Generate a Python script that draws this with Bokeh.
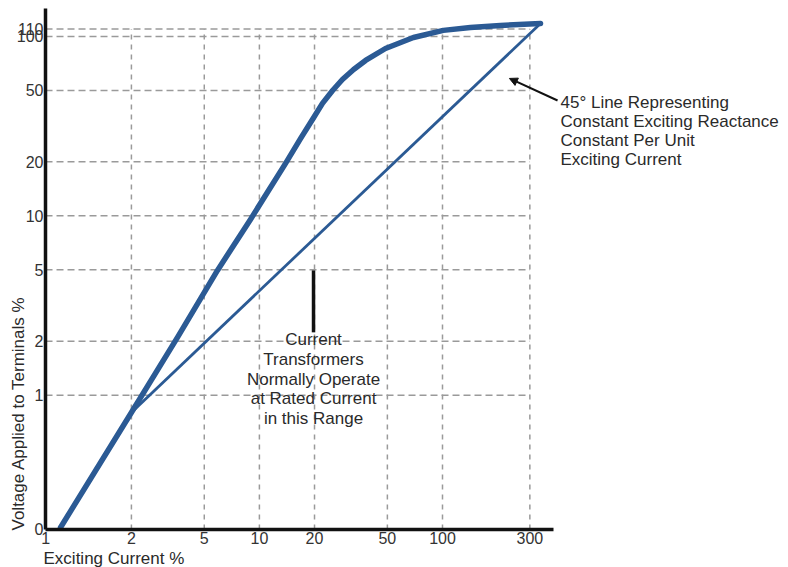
import math
from bokeh.plotting import figure
from bokeh.models import Range1d, FixedTicker, Label, Arrow, NormalHead
from bokeh.embed import file_html
from bokeh.resources import INLINE

# ---------------- data ----------------
x_tick_values = [0.68, 2, 5, 10, 20, 50, 100, 300]
x_tick_labels = ["1", "2", "5", "10", "20", "50", "100", "300"]
y_tick_values = [0.18, 1, 2, 5, 10, 20, 50, 100, 110]
y_tick_labels = ["0", "1", "2", "5", "10", "20", "50", "100", "110"]

# excitation (magnetizing) curve: exciting current % vs applied voltage %
curve_current = [0.82, 2.00, 3.57, 5.90, 8.94, 11.2, 13.9, 16.8, 19.8, 22.1,
                 25.1, 28.4, 32.7, 38.0, 48.8, 69.4, 101, 142, 207, 343]
curve_voltage = [0.183, 0.801, 2.10, 4.96, 9.54, 13.8, 19.6, 27.0, 35.3, 42.3,
                 49.9, 57.5, 65.4, 73.4, 85.6, 98.6, 108, 112, 115, 118]

# 45 degree line (constant exciting reactance)
line45_current = [2.00, 343]
line45_voltage = [0.801, 118]

# ---------------- layout constants ----------------
X_MIN, X_MAX = 0.3855, 7757      # whole canvas width
Y_MIN, Y_MAX = 0.1095, 158.5     # whole canvas height
X_AXIS_AT, X_AXIS_END = 0.679, 404
Y_AXIS_AT, Y_AXIS_END = 0.1784, 143

FONT = "Liberation Sans"
BLUE = "#2b5a94"
GRID = "#9a9a9a"
TXT = "#2a2a2a"

p = figure(width=788, height=567, x_axis_type="log", y_axis_type="log",
           x_range=Range1d(X_MIN, X_MAX), y_range=Range1d(Y_MIN, Y_MAX),
           output_backend="svg", toolbar_location=None, title=None,
           min_border=0)
p.min_border_left = 0
p.min_border_right = 0
p.min_border_top = 0
p.min_border_bottom = 0
p.outline_line_color = None
p.xgrid.visible = False
p.ygrid.visible = False
p.background_fill_color = "white"
p.border_fill_color = "white"

# grid drawn from tick values (box limited to 300 x 110)
gy = y_tick_values[1:]
p.segment(x0=[X_AXIS_AT] * len(gy), y0=gy, x1=[x_tick_values[-1]] * len(gy), y1=gy,
          line_color=GRID, line_width=1.5, line_dash="7 4")
gx = x_tick_values[1:]
p.segment(x0=gx, y0=[Y_AXIS_AT] * len(gx), x1=gx, y1=[y_tick_values[-1]] * len(gx),
          line_color=GRID, line_width=1.5, line_dash="5 5")

# curves
p.line(line45_current, line45_voltage, line_color=BLUE, line_width=2.8)
p.line(curve_current, curve_voltage, line_color=BLUE, line_width=5.5,
       line_join="round", line_cap="round")

# axes (fixed inside the frame so that outer texts are not clipped)
p.xaxis.fixed_location = Y_AXIS_AT
p.yaxis.fixed_location = X_AXIS_AT
p.xaxis.bounds = (X_AXIS_AT, X_AXIS_END)
p.yaxis.bounds = (Y_AXIS_AT, Y_AXIS_END)
for ax, vals, labs in ((p.xaxis, x_tick_values, x_tick_labels),
                       (p.yaxis, y_tick_values, y_tick_labels)):
    ax.ticker = FixedTicker(ticks=vals, minor_ticks=[])
    ax.major_label_overrides = {v: l for v, l in zip(vals, labs)}
    ax.axis_line_width = 3.5
    ax.axis_line_color = "#111111"
    ax.major_tick_line_color = None
    ax.minor_tick_line_color = None
    ax.major_tick_out = 0
    ax.major_tick_in = 0
    ax.major_label_text_font = FONT
    ax.major_label_text_font_size = "16px"
    ax.major_label_text_color = "#333333"
p.xaxis.major_label_standoff = 3
p.yaxis.major_label_standoff = 2

# axis titles
p.add_layout(Label(x=0.4864, y=0.1761, text="Voltage Applied to Terminals %",
                   angle=math.pi / 2, text_align="left", text_baseline="middle",
                   text_font=FONT, text_font_size="17px", text_color=TXT))
p.add_layout(Label(x=0.6621, y=0.1229, text="Exciting Current %",
                   text_align="left", text_baseline="middle",
                   text_font=FONT, text_font_size="17px", text_color=TXT))

# annotations
p.add_layout(Label(x=441, y=29.6,
                   text="45° Line Representing\nConstant Exciting Reactance\nConstant Per Unit\nExciting Current",
                   text_align="left", text_baseline="middle", text_line_height=1.0,
                   text_font=FONT, text_font_size="17px", text_color=TXT))
p.add_layout(Arrow(end=NormalHead(size=8, fill_color="#111111", line_color="#111111"),
                   x_start=425, y_start=43.9, x_end=232, y_end=58.3,
                   line_width=2, line_color="#111111"))

p.add_layout(Label(x=19.75, y=1.23,
                   text="Current\nTransformers\nNormally Operate\nat Rated Current\nin this Range",
                   text_align="center", text_baseline="middle", text_line_height=1.03,
                   text_font=FONT, text_font_size="17px", text_color=TXT))
p.add_layout(Arrow(end=None, x_start=19.75, y_start=4.96, x_end=19.75, y_end=2.24,
                   line_width=3.5, line_color="#111111"))

open("out.html", "w").write(file_html(p, INLINE))
